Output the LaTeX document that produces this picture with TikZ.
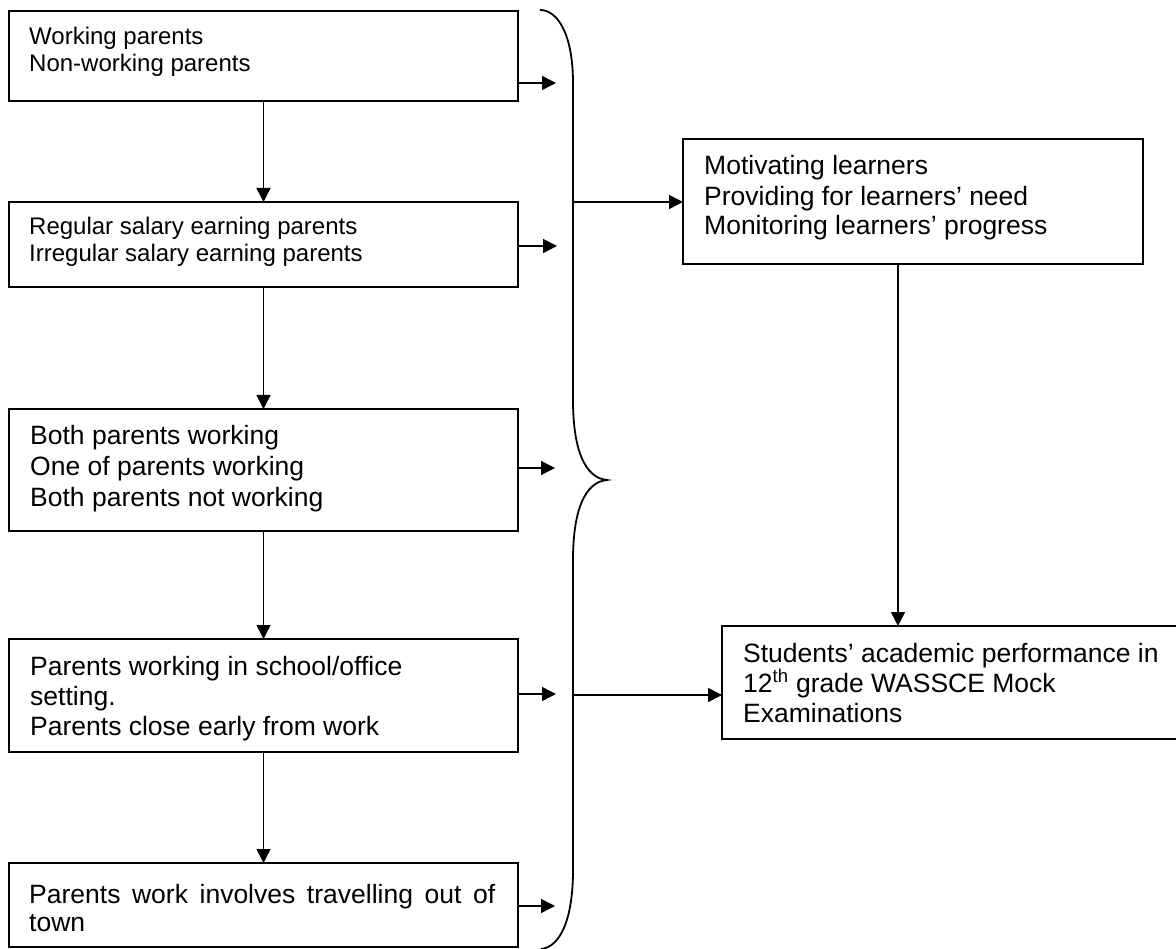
\documentclass[tikz,border=0pt]{standalone}
\usepackage{fontspec}
\setmainfont{Liberation Sans}
\usetikzlibrary{arrows.meta}
\tikzset{
  box/.style={draw, line width=1.8pt, inner sep=0pt, outer sep=0pt, anchor=north west},
  smalltxt/.style={font=\fontsize{24}{28}\selectfont, inner sep=0pt, anchor=base west},
  bigtxt/.style={font=\fontsize{26.5}{30.5}\selectfont, inner sep=0pt, anchor=base west},
  arr/.style={line width=1.5pt, -{Triangle[length=14pt,width=14pt]}},
  braceline/.style={line width=1.8pt}
}
\begin{document}
\begin{tikzpicture}[x=1pt,y=-1pt]
\useasboundingbox (0,0) rectangle (1176,949);
\clip (0,0) rectangle (1176,949);

% left column boxes
\node[box, minimum width=509pt, minimum height=90pt]  (b1) at (9,11) {};
\node[box, minimum width=509pt, minimum height=85pt]  (b2) at (9,202) {};
\node[box, minimum width=509pt, minimum height=122pt] (b3) at (9,409) {};
\node[box, minimum width=509pt, minimum height=113pt] (b4) at (9,639) {};
\node[box, minimum width=509pt, minimum height=84pt]  (b5) at (9,863) {};

% right boxes
\node[box, minimum width=460pt, minimum height=125pt] (r1) at (683,139) {};
\node[box, minimum width=480pt, minimum height=113pt] (r2) at (722,626) {};

% texts
\node[smalltxt] (t1a) at (29,45) {Working parents};
\node[smalltxt] (t1b) at (29,72) {Non-working parents};
\node[smalltxt] (t2a) at (29,235) {Regular salary earning parents};
\node[smalltxt] (t2b) at (29,262) {Irregular salary earning parents};
\node[bigtxt] (t3a) at (30,445) {Both parents working};
\node[bigtxt] (t3b) at (30,476) {One of parents working};
\node[bigtxt] (t3c) at (30,507) {Both parents not working};
\node[bigtxt] (t4a) at (30,675) {Parents working in school/office};
\node[bigtxt] (t4b) at (30,705) {setting.};
\node[bigtxt] (t4c) at (30,735) {Parents close early from work};
\node[bigtxt] (t5a) at (29,903) {\hbox to 466pt{Parents\hfill work\hfill involves\hfill travelling\hfill out\hfill of}};
\node[bigtxt] (t5b) at (29,931) {town};
\node[bigtxt] (r1a) at (704,175) {Motivating learners};
\node[bigtxt] (r1b) at (704,206) {Providing for learners’ need};
\node[bigtxt] (r1c) at (704,235) {Monitoring learners’ progress};
\node[bigtxt] (r2a) at (743,662) {Students’ academic performance in};
\node[bigtxt] (r2b) at (743,692) {12\textsuperscript{th} grade WASSCE Mock};
\node[bigtxt] (r2c) at (743,722) {Examinations};

% vertical chain
\draw[arr] (b1.south) -- (b2.north);
\draw[arr] (b2.south) -- (b3.north);
\draw[arr] (b3.south) -- (b4.north);
\draw[arr] (b4.south) -- (b5.north);

% arrows toward the brace
\coordinate (e1) at (556,83);
\coordinate (e2) at (557,246);
\coordinate (e3) at (555,468);
\coordinate (e4) at (556,694);
\coordinate (e5) at (555,906);
\draw[arr] (b1.east |- e1) -- (e1);
\draw[arr] (b2.east |- e2) -- (e2);
\draw[arr] (b3.east |- e3) -- (e3);
\draw[arr] (b4.east |- e4) -- (e4);
\draw[arr] (b5.east |- e5) -- (e5);

% brace
\draw[braceline] (540,10) .. controls (558,10) and (573,35) .. (573,83)
  -- (573,400) .. controls (573,450) and (585,478) .. (607,480)
  .. controls (585,482) and (573,510) .. (573,560)
  -- (573,870) .. controls (573,920) and (560,947) .. (541,949);

% from brace to right boxes
\coordinate (j1) at (573,202);
\coordinate (j2) at (573,695);
\draw[arr] (j1) -- (r1.west |- j1);
\draw[arr] (j2) -- (r2.west |- j2);

% right vertical arrow
\coordinate (v) at (898,0);
\draw[arr] (r1.south -| v) -- (r2.north -| v);
\end{tikzpicture}
\end{document}
